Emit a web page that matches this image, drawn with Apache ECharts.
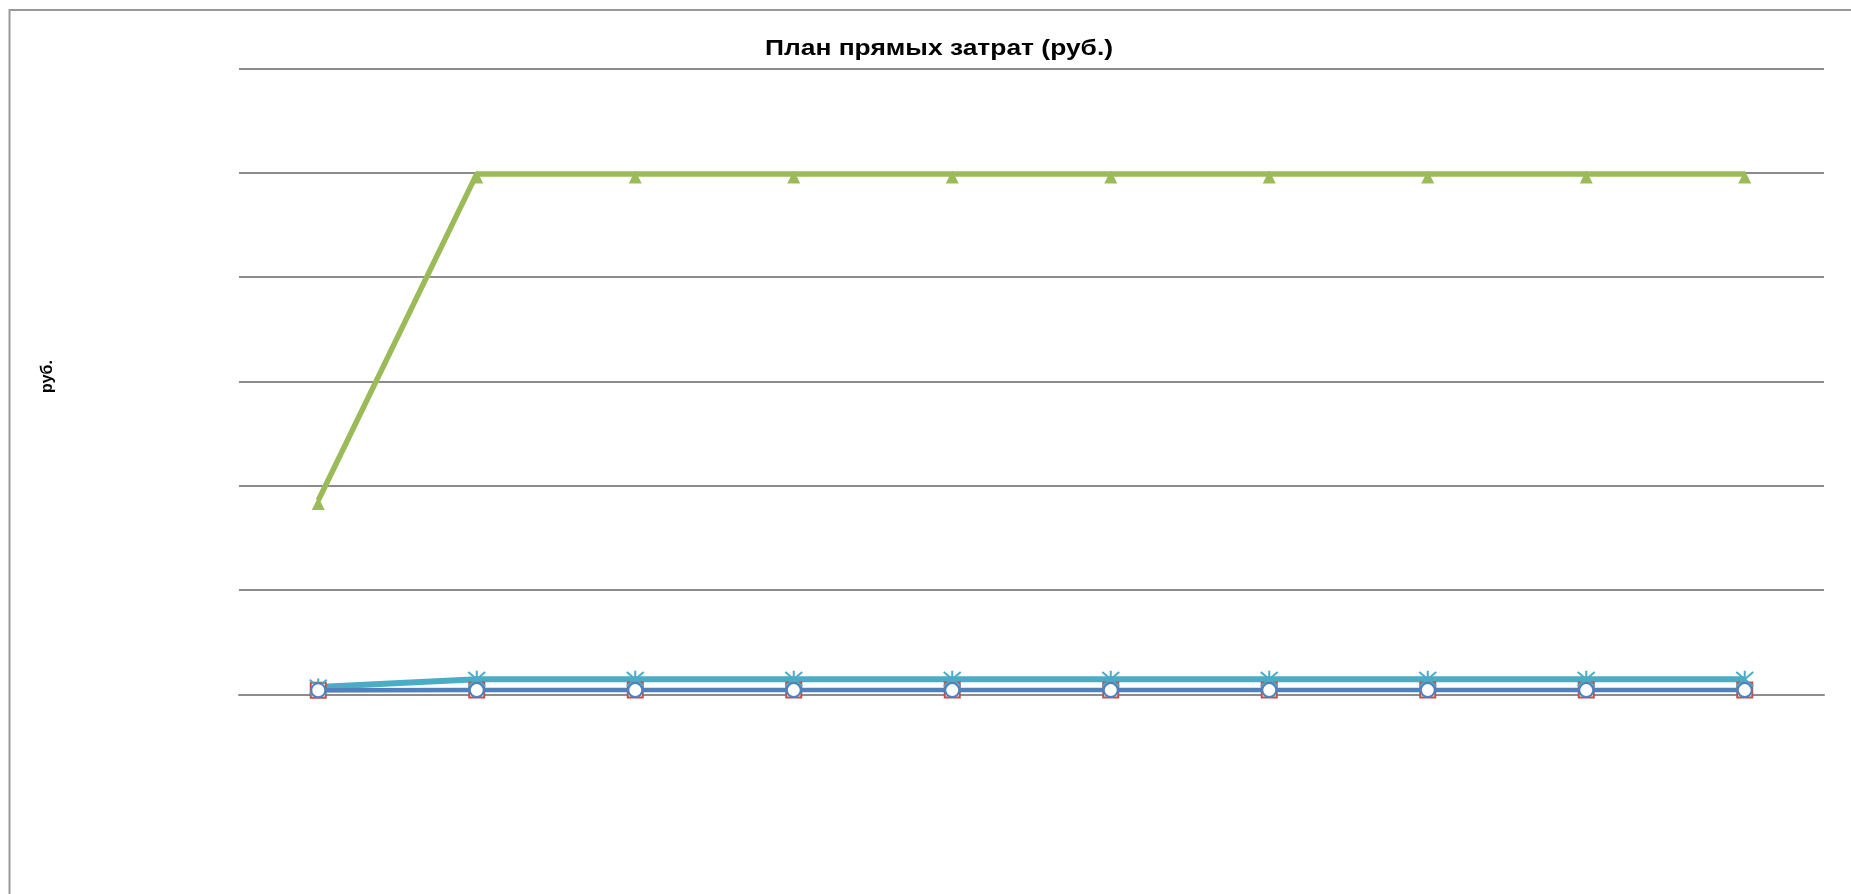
<!DOCTYPE html>
<html>
<head>
<meta charset="utf-8">
<script src="https://cdn.jsdelivr.net/npm/echarts@6/dist/echarts.min.js"></script>
<style>
html,body{margin:0;padding:0;background:#fff;}
#main{width:1851px;height:894px;}
</style>
</head>
<body>
<div id="main"></div>
<script>
// Data
var categories = ['1', '2', '3', '4', '5', '6', '7', '8', '9', '10'];
var seriesRed = [400, 420, 420, 420, 420, 420, 420, 420, 420, 420];
var seriesBlue = [400, 420, 420, 420, 420, 420, 420, 420, 420, 420];
var seriesGreen = [18600, 49900, 49900, 49900, 49900, 49900, 49900, 49900, 49900, 49900];
var seriesCyan = [730, 1470, 1470, 1470, 1470, 1470, 1470, 1470, 1470, 1470];
var yMin = 0, yMax = 60000, yInterval = 10000;
var titleText = 'План прямых затрат (руб.)';
var yName = 'руб.';

var chart = echarts.init(document.getElementById('main'));
var starPath = 'path://M0,0L10,10M10,0L0,10M5,-1L5,11';
chart.setOption({
  animation: false,
  backgroundColor: '#fff',
  graphic: [
    { type: 'rect', shape: { x: 9.5, y: 10, width: 3000, height: 3000 }, style: { fill: 'none', stroke: '#999', lineWidth: 2 }, silent: true },
    { type: 'text', x: 939, y: 49, scaleX: 1.2,
      style: { text: titleText, font: 'bold 22px "Liberation Sans", Arial, sans-serif', fill: '#000', textAlign: 'center', textVerticalAlign: 'middle' } },
    { type: 'text', x: 48, y: 376.5, rotation: Math.PI / 2,
      style: { text: yName, font: 'bold 16px "Liberation Sans", Arial, sans-serif', fill: '#000', textAlign: 'center', textVerticalAlign: 'middle' } }
  ],
  grid: { left: 239, right: 27, top: 68.5, height: 626, containLabel: false },
  xAxis: {
    type: 'category',
    data: categories,
    boundaryGap: true,
    axisLine: { show: true, lineStyle: { color: '#8c8c8c', width: 2 } },
    axisTick: { show: false },
    axisLabel: { show: false }
  },
  yAxis: {
    type: 'value',
    min: yMin, max: yMax, interval: yInterval,
    axisLine: { show: false },
    axisTick: { show: false },
    axisLabel: { show: false },
    splitLine: { show: true, lineStyle: { color: '#8c8c8c', width: 2 } }
  },
  series: [
    {
      name: 'red', type: 'line', data: seriesRed,
      symbol: 'rect', symbolSize: 15,
      lineStyle: { color: '#C0504D', width: 4 },
      itemStyle: { color: '#fff', borderColor: '#C0504D', borderWidth: 2 }
    },
    {
      name: 'green', type: 'line', data: seriesGreen,
      symbol: 'triangle', symbolSize: 13, symbolOffset: [0, 3],
      lineStyle: { color: '#9BBB59', width: 5.5 },
      itemStyle: { color: '#9BBB59' }
    },
    {
      name: 'cyan', type: 'line', data: seriesCyan,
      symbol: starPath, symbolSize: 17,
      lineStyle: { color: '#4BACC6', width: 6 },
      itemStyle: { color: 'none', borderColor: '#4BACC6', borderWidth: 2 }
    },
    {
      name: 'blue', type: 'line', data: seriesBlue,
      symbol: 'circle', symbolSize: 14,
      lineStyle: { color: '#4F81BD', width: 4.5 },
      itemStyle: { color: '#fff', borderColor: '#4F81BD', borderWidth: 2 },
      z: 5
    }
  ]
});
</script>
</body>
</html>
